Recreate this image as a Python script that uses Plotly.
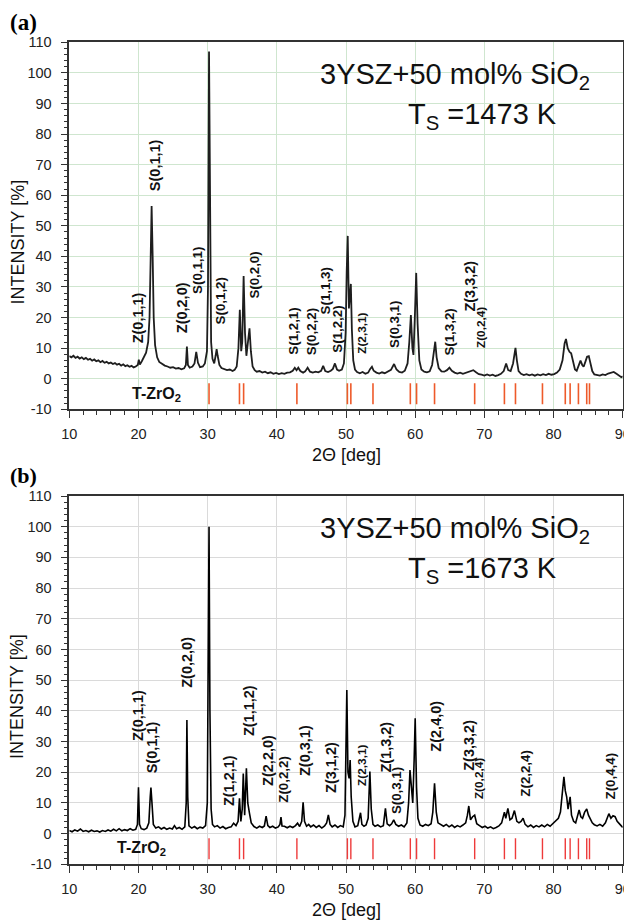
import plotly.graph_objects as go

# ---------------- data: panel (a), Ts = 1473 K ----------------
two_theta_a = [
    10.0, 10.3, 10.6, 10.9, 11.2, 11.5, 11.8, 12.1, 12.4, 12.7, 13.0, 13.3, 13.6, 13.9, 14.2, 14.5, 14.8,
    15.1, 15.4, 15.7, 16.0, 16.3, 16.6, 16.9, 17.2, 17.5, 17.8, 18.1, 18.4, 18.7, 19.0, 19.3, 19.6, 19.9,
    20.05, 20.2, 20.5, 20.8, 21.1, 21.4, 21.6, 21.75, 21.9, 22.05, 22.2, 22.4, 22.7, 23.0, 23.4, 23.8,
    24.2, 24.6, 25.0, 25.4, 25.8, 26.2, 26.6, 26.85, 27.0, 27.15, 27.4, 27.8, 28.1, 28.35, 28.6, 28.9,
    29.3, 29.6, 29.9, 30.05, 30.2, 30.35, 30.5, 30.7, 30.95, 31.15, 31.3, 31.45, 31.7, 32.0, 32.4, 32.8,
    33.2, 33.6, 33.9, 34.2, 34.45, 34.65, 34.85, 35.0, 35.2, 35.4, 35.6, 35.85, 36.05, 36.25, 36.5, 36.8,
    37.1, 37.5, 37.9, 38.3, 38.7, 39.1, 39.5, 39.9, 40.3, 40.7, 41.1, 41.5, 41.9, 42.3, 42.6, 42.85, 43.1,
    43.4, 43.8, 44.1, 44.45, 44.8, 45.2, 45.6, 46.0, 46.4, 46.7, 47.0, 47.4, 47.8, 48.1, 48.4, 48.7, 49.0,
    49.4, 49.7, 49.95, 50.1, 50.25, 50.42, 50.55, 50.7, 50.85, 51.05, 51.3, 51.6, 52.0, 52.4, 52.8, 53.2,
    53.5, 53.75, 54.0, 54.4, 54.8, 55.2, 55.6, 56.0, 56.5, 56.95, 57.3, 57.7, 58.1, 58.5, 58.9, 59.15,
    59.38, 59.6, 59.75, 59.95, 60.15, 60.35, 60.6, 60.9, 61.3, 61.7, 62.1, 62.45, 62.7, 62.9, 63.1, 63.4,
    63.8, 64.2, 64.6, 64.95, 65.3, 65.7, 66.1, 66.5, 66.9, 67.3, 67.7, 68.1, 68.4, 68.8, 69.2, 69.6, 70.0,
    70.4, 70.8, 71.2, 71.6, 72.0, 72.4, 72.8, 73.15, 73.45, 73.8, 74.15, 74.5, 74.7, 74.95, 75.3, 75.7,
    76.1, 76.5, 76.9, 77.3, 77.7, 78.1, 78.5, 78.9, 79.3, 79.7, 80.1, 80.5, 80.9, 81.3, 81.6, 81.8, 82.05,
    82.3, 82.55, 82.8, 83.1, 83.35, 83.6, 83.9, 84.15, 84.35, 84.6, 84.85, 85.1, 85.35, 85.6, 85.9, 86.3,
    86.7, 87.1, 87.5, 87.9, 88.3, 88.7, 89.1, 89.5, 89.8, 90.0,
]
intensity_a = [
    7.4, 7.0, 7.5, 6.8, 7.2, 6.6, 7.0, 6.4, 6.8, 6.2, 6.5, 5.9, 6.3, 5.7, 6.0, 5.4, 5.8,
    5.2, 5.5, 5.0, 5.3, 4.8, 5.1, 4.6, 4.9, 4.3, 4.7, 4.1, 4.4, 3.9, 4.2, 3.7, 4.0, 4.5,
    6.2, 4.6, 5.8, 7.0, 8.5, 12, 20, 38, 56.5, 40, 20, 11, 7, 5.5, 4.8, 4.3,
    4.0, 3.6, 3.8, 3.3, 3.5, 3.1, 3.4, 4.5, 10.5, 4.5, 3.6, 4.0, 5.0, 8.8, 5.2, 3.8,
    4.0, 5.0, 9, 30, 107, 35, 12, 6.5, 5.0, 7.5, 9.7, 7.5, 4.5, 3.5, 3.2, 2.8,
    3.0, 2.5, 2.9, 4.0, 10, 22.5, 9, 12, 33.6, 15, 7.5, 12, 16.5, 9, 4.0, 2.8,
    2.3, 2.5, 2.0, 2.3, 1.8, 2.1, 1.6, 1.9, 1.5, 1.8, 1.6, 2.0, 2.1, 2.6, 3.6, 2.8, 3.6,
    2.5, 2.0, 2.4, 3.6, 2.3, 2.0, 2.3, 2.1, 2.6, 4.2, 2.5, 2.2, 2.6, 3.2, 5.0, 3.0, 2.6,
    3.0, 5, 15, 35, 46.7, 23, 28, 31, 16, 6, 3.0, 2.2, 1.8, 2.2, 1.6, 2.0,
    3.2, 3.9, 2.6, 2.0, 1.7, 2.1, 1.8, 2.2, 2.9, 4.8, 3.0, 2.2, 2.0, 2.6, 5, 12,
    20.8, 10, 7.8, 20, 34.6, 18, 6, 3.0, 2.3, 2.1, 2.4, 4.5, 9, 12.1, 7, 3.5,
    2.4, 2.3, 2.8, 3.6, 2.6, 2.0, 1.7, 2.0, 1.6, 1.9, 2.3, 2.4, 2.8, 2.1, 1.5, 1.3, 1.0,
    1.4, 1.0, 1.3, 0.9, 1.2, 1.6, 2.5, 5.0, 2.8, 2.5, 5, 10.1, 6, 2.5, 1.6, 1.2,
    1.5, 1.1, 1.4, 1.0, 1.4, 1.1, 1.5, 1.2, 1.6, 1.3, 1.5, 2.0, 3.0, 6, 11.5, 13.0, 10,
    8.8, 8.3, 5.5, 3.0, 2.6, 4, 5.9, 4.5, 3.9, 5.5, 7.2, 7.4, 5, 2.5, 1.4, 1.2,
    1.0, 1.4, 1.2, 1.7, 2.0, 2.2, 1.6, 1.0, 0.5, 0.8,
]

# ---------------- data: panel (b), Ts = 1673 K ----------------
two_theta_b = [
    10.0, 10.4, 10.8, 11.2, 11.6, 12.0, 12.4, 12.8, 13.2, 13.6, 14.0, 14.4, 14.8, 15.2, 15.6, 16.0, 16.4,
    16.8, 17.2, 17.6, 18.0, 18.4, 18.8, 19.2, 19.6, 19.85, 20.0, 20.15, 20.4, 20.8, 21.2, 21.5, 21.7, 21.8,
    21.95, 22.15, 22.5, 22.9, 23.3, 23.7, 24.1, 24.5, 24.9, 25.2, 25.5, 25.9, 26.3, 26.7, 26.9, 27.0,
    27.12, 27.3, 27.7, 28.1, 28.5, 28.9, 29.3, 29.7, 29.95, 30.08, 30.2, 30.33, 30.5, 30.7, 31.0, 31.4,
    31.8, 32.2, 32.6, 33.0, 33.4, 33.75, 34.1, 34.4, 34.6, 34.8, 35.0, 35.15, 35.35, 35.6, 35.8, 36.05,
    36.3, 36.7, 37.1, 37.5, 37.9, 38.2, 38.45, 38.7, 39.0, 39.4, 39.8, 40.2, 40.45, 40.6, 40.75, 41.1,
    41.5, 41.9, 42.3, 42.7, 43.0, 43.3, 43.6, 43.8, 44.0, 44.3, 44.6, 44.9, 45.3, 45.7, 46.1, 46.5, 46.9,
    47.2, 47.45, 47.7, 48.0, 48.4, 48.8, 49.2, 49.6, 49.85, 50.0, 50.12, 50.28, 50.45, 50.6, 50.75, 51.0,
    51.3, 51.7, 51.95, 52.1, 52.3, 52.6, 52.9, 53.2, 53.45, 53.65, 53.9, 54.2, 54.6, 55.0, 55.4, 55.7,
    55.95, 56.3, 56.6, 56.9, 57.2, 57.6, 58.0, 58.4, 58.8, 59.05, 59.25, 59.45, 59.65, 59.85, 60.0, 60.2,
    60.4, 60.7, 61.1, 61.5, 61.9, 62.3, 62.55, 62.8, 63.05, 63.3, 63.7, 64.1, 64.5, 64.9, 65.3, 65.7,
    66.1, 66.5, 66.9, 67.3, 67.55, 67.75, 68.0, 68.3, 68.6, 68.9, 69.3, 69.7, 70.1, 70.5, 70.9, 71.3,
    71.7, 72.1, 72.5, 72.9, 73.1, 73.4, 73.7, 74.0, 74.35, 74.7, 75.0, 75.3, 75.6, 75.9, 76.3, 76.7,
    77.1, 77.5, 77.9, 78.3, 78.7, 79.1, 79.5, 79.9, 80.3, 80.7, 81.0, 81.25, 81.5, 81.7, 81.9, 82.1,
    82.4, 82.6, 82.9, 83.2, 83.45, 83.7, 83.95, 84.2, 84.5, 84.8, 85.05, 85.3, 85.6, 85.9, 86.3, 86.7,
    87.1, 87.5, 87.8, 88.0, 88.3, 88.6, 88.9, 89.2, 89.6, 90.0,
]
intensity_b = [
    1.0, 0.6, 1.2, 0.8, 1.5, 0.7, 1.0, 0.6, 1.1, 0.7, 0.9, 0.5, 1.0, 0.7, 1.2, 0.8, 1.4,
    0.9, 1.6, 0.9, 1.3, 1.0, 1.6, 1.1, 1.4, 3, 15.1, 3, 1.6, 1.3, 1.8, 3.5, 12, 15,
    10, 3, 1.8, 2.2, 1.5, 2.0, 1.4, 1.8, 1.5, 2.6, 1.6, 2.0, 1.4, 2.2, 10, 37,
    12, 2.5, 1.8, 2.3, 1.6, 2.1, 1.8, 2.6, 10, 45, 100, 40, 8, 3, 2.2, 2.6,
    1.8, 2.3, 1.6, 2.0, 2.2, 3.4, 2.6, 4, 11.5, 4, 8, 19.6, 6, 21.3, 10, 6.6,
    3.5, 2.3, 1.8, 2.4, 2.0, 2.5, 5.7, 2.6, 2.0, 2.4, 1.8, 2.2, 3, 5.4, 2.5, 2.4,
    1.9, 2.4, 2.0, 2.6, 3.4, 2.3, 4, 10.2, 4, 2.4, 3.0, 2.2, 2.8, 2.0, 2.6, 1.8, 2.5,
    3.5, 6.1, 3, 2.2, 2.8, 2.0, 2.6, 2.2, 6, 25, 46.8, 20, 18, 24, 12, 4,
    2.2, 2.6, 5, 6.8, 3, 2.4, 2.8, 5, 20.2, 8, 3, 2.4, 2.8, 2.2, 2.6, 8.2,
    3.2, 2.6, 3.2, 4.5, 3.0, 2.4, 2.8, 2.2, 3.5, 10, 20.7, 14, 10, 24, 37.6, 15,
    5, 2.8, 2.4, 3.0, 2.6, 3.2, 7, 16.4, 7, 3.5, 2.8, 2.4, 3.0, 2.2, 2.8, 2.0,
    2.6, 2.2, 2.8, 3.5, 6, 9, 4.5, 5.5, 6.0, 3.2, 2.6, 2.0, 2.4, 1.8, 2.2, 1.6,
    2.0, 2.5, 3.5, 7, 5, 8.2, 4.5, 5, 7.5, 4, 3.5, 4, 5, 3, 2.2, 2.8,
    2.0, 2.6, 2.2, 2.8, 2.2, 3.0, 2.4, 3.2, 4, 5, 7, 12, 18.5, 14, 12, 8,
    12, 6, 4, 3.5, 6, 7.7, 5.5, 5, 7, 8, 6, 5, 3.5, 2.9, 2.5, 3.0,
    2.4, 3.5, 5.5, 6.5, 5, 5.8, 5.5, 4, 3, 2.0,
]

# reference positions of tetragonal ZrO2 (T-ZrO2)
t_zro2_positions = [30.2, 34.6, 35.2, 42.9, 50.2, 50.7, 53.9, 59.3, 60.2, 62.8,
                    68.6, 72.9, 74.5, 78.4, 81.7, 82.4, 83.6, 84.8, 85.2]
t_zro2_level = -4.9

# peak labels: text, 2theta, intensity at label base, size class
labels_a = ["Z(0,1,1)", "S(0,1,1)", "Z(0,2,0)", "S(0,1,1)", "S(0,1,2)", "S(0,2,0)", "S(1,2,1)",
            "S(0,2,2)", "S(1,1,3)", "S(1,2,2)", "Z(2,3,1)", "S(0,3,1)", "S(1,3,2)", "Z(3,3,2)", "Z(0,2,4)"]
labels_a_x = [19.9, 22.3, 26.4, 28.5, 31.9, 36.8, 42.4, 45.0, 47.0, 48.75, 52.2, 57.0, 65.0, 67.9, 69.6]
labels_a_y = [11.0, 60.8, 14.3, 27.0, 17.2, 25.6, 7.2, 7.0, 20.3, 7.8, 7.4, 9.4, 7.0, 21.4, 9.4]
labels_a_cls = ["L", "L", "L", "M", "M", "M", "M", "M", "M", "M", "S", "M", "M", "L", "S"]

labels_b = ["Z(0,1,1)", "S(0,1,1)", "Z(0,2,0)", "Z(1,2,1)", "Z(1,1,2)", "Z(2,2,0)", "Z(0,2,2)",
            "Z(0,3,1)", "Z(3,1,2)", "Z(2,3,1)", "Z(1,3,2)", "S(0,3,1)", "Z(2,4,0)", "Z(3,3,2)",
            "Z(0,2,4)", "Z(2,2,4)", "Z(0,4,4)"]
labels_b_x = [19.9, 22.0, 27.06, 33.2, 35.9, 38.7, 41.0, 44.1, 47.9, 52.2, 55.8, 57.3, 63.0, 67.8,
              69.2, 76.0, 88.2]
labels_b_y = [29.6, 19.1, 46.8, 8.4, 31.1, 15.0, 9.5, 18.0, 12.6, 14.8, 19.1, 5.7, 26.2, 19.7,
              10.7, 11.5, 10.4]
labels_b_cls = ["L", "L", "L", "L", "L", "L", "M", "L", "L", "S", "L", "M", "L", "L", "S", "M", "M"]

y_ticks = [-10, 0, 10, 20, 30, 40, 50, 60, 70, 80, 90, 100, 110]
y_tick_text = ["-10", "0", "10", "20", "30", "40", "50", "60", "70", "80", "90", "100", "110"]
x_ticks = [10, 20, 30, 40, 50, 60, 70, 80, 90]

# ---------------- styling ----------------
SANS = "Liberation Sans, Arial, sans-serif"
SERIF = "Liberation Serif, Times New Roman, serif"
label_sizes = {"L": 14.5, "M": 13.3, "S": 11.8}

# the page body has an 8px margin: the figure starts at (8, 8) of the window
OFF = 8
W, H = 632 - OFF, 921 - OFF


def px_x(p):
    return (p - OFF) / W


def px_y(p):
    return 1 - (p - OFF) / H


fig = go.Figure()

fig.add_trace(go.Scatter(x=two_theta_a, y=intensity_a, mode="lines",
                         line=dict(color="#1e1e1e", width=1.8), xaxis="x", yaxis="y",
                         showlegend=False, hoverinfo="skip"))
fig.add_trace(go.Scatter(x=t_zro2_positions, y=[t_zro2_level] * len(t_zro2_positions), mode="markers",
                         marker=dict(symbol="line-ns", size=15, line=dict(color="#ee5a2a", width=1.6)),
                         xaxis="x", yaxis="y", showlegend=False, hoverinfo="skip"))
fig.add_trace(go.Scatter(x=two_theta_b, y=intensity_b, mode="lines",
                         line=dict(color="#000000", width=1.6), xaxis="x2", yaxis="y2",
                         showlegend=False, hoverinfo="skip"))
fig.add_trace(go.Scatter(x=t_zro2_positions, y=[t_zro2_level] * len(t_zro2_positions), mode="markers",
                         marker=dict(symbol="line-ns", size=15, line=dict(color="#ee3a3a", width=1.4)),
                         xaxis="x2", yaxis="y2", showlegend=False, hoverinfo="skip"))

x_dom = [px_x(69.3), px_x(622.7)]
ya_dom = [px_y(409.3), px_y(42.3)]
yb_dom = [px_y(864.3), px_y(496)]


def xaxis_style(anchor, grid):
    return dict(domain=x_dom, anchor=anchor, range=[10, 90], tickvals=x_ticks,
                showgrid=True, gridcolor=grid, gridwidth=1, zeroline=False,
                showline=True, linecolor="#333333", linewidth=1.5, mirror=True,
                ticks="outside", ticklen=7, tickwidth=1.3, tickcolor="#333333",
                ticklabelstandoff=4,
                minor=dict(dtick=2, ticks="outside", ticklen=4, tickwidth=1.2, tickcolor="#333333",
                           showgrid=False),
                tickfont=dict(family=SANS, size=14.5, color="#222222"), automargin=False)


def yaxis_style(anchor, dom, grid):
    return dict(domain=dom, anchor=anchor, range=[-10, 110], tickvals=y_ticks, ticktext=y_tick_text,
                showgrid=True, gridcolor=grid, gridwidth=1, zeroline=False,
                showline=True, linecolor="#333333", linewidth=1.5, mirror=True,
                ticks="outside", ticklen=7, tickwidth=1.3, tickcolor="#333333",
                ticklabelstandoff=6,
                minor=dict(dtick=2, ticks="outside", ticklen=4, tickwidth=1.2, tickcolor="#333333",
                           showgrid=False),
                tickfont=dict(family=SANS, size=14.5, color="#222222"), automargin=False)


fig.update_layout(
    width=W, height=H, margin=dict(l=0, r=0, t=0, b=0),
    paper_bgcolor="white", plot_bgcolor="white",
    xaxis=xaxis_style("y", "#cfe6cf"),
    yaxis=yaxis_style("x", ya_dom, "#cfe6cf"),
    xaxis2=xaxis_style("y2", "#dadada"),
    yaxis2=yaxis_style("x2", yb_dom, "#dadada"),
)

ann = []
for txt, xv, yv, c in zip(labels_a, labels_a_x, labels_a_y, labels_a_cls):
    ann.append(dict(text="<b>%s</b>" % txt, x=xv, y=yv, xref="x", yref="y", textangle=-90,
                    xanchor="center", yanchor="bottom", showarrow=False,
                    font=dict(family=SANS, size=label_sizes[c], color="#111111")))
for txt, xv, yv, c in zip(labels_b, labels_b_x, labels_b_y, labels_b_cls):
    ann.append(dict(text="<b>%s</b>" % txt, x=xv, y=yv, xref="x2", yref="y2", textangle=-90,
                    xanchor="center", yanchor="bottom", showarrow=False,
                    font=dict(family=SANS, size=label_sizes[c], color="#111111")))

for xr, yr, ts, tzx in (("x", "y", "T<sub>S</sub> =1473 K", 18.8), ("x2", "y2", "T<sub>S</sub> =1673 K", 16.6)):
    ann.append(dict(text="3YSZ+50 mol% SiO<sub>2</sub>", x=46.0, y=99.0, xref=xr, yref=yr,
                    xanchor="left", yanchor="middle", showarrow=False,
                    font=dict(family=SANS, size=29, color="#111111")))
    ann.append(dict(text=ts, x=58.7, y=86.0, xref=xr, yref=yr,
                    xanchor="left", yanchor="middle", showarrow=False,
                    font=dict(family=SANS, size=29, color="#111111")))
    ann.append(dict(text="<b>T-ZrO<sub>2</sub></b>", x=tzx, y=-5.0, xref=xr, yref=yr,
                    xanchor="left", yanchor="middle", showarrow=False,
                    font=dict(family=SANS, size=16, color="#111111")))

# panel letters and axis titles (paper coords == figure fraction since margins are 0)
ann.append(dict(text="<b>(a)</b>", x=px_x(8), y=px_y(8), xref="paper", yref="paper",
                xanchor="left", yanchor="top", showarrow=False,
                font=dict(family=SERIF, size=23, color="#000000")))
ann.append(dict(text="<b>(b)</b>", x=px_x(8), y=px_y(461), xref="paper", yref="paper",
                xanchor="left", yanchor="top", showarrow=False,
                font=dict(family=SERIF, size=22, color="#000000")))
for yc in (242.5, 697.0):
    ann.append(dict(text="INTENSITY [%]", x=px_x(17), y=px_y(yc), xref="paper", yref="paper",
                    textangle=-90, xanchor="center", yanchor="middle", showarrow=False,
                    font=dict(family=SANS, size=18, color="#111111")))
for yc in (455.0, 910.0):
    ann.append(dict(text="2Θ [deg]", x=px_x(346), y=px_y(yc), xref="paper", yref="paper",
                    xanchor="center", yanchor="middle", showarrow=False,
                    font=dict(family=SANS, size=18, color="#111111")))

fig.update_layout(annotations=ann)
fig.write_html("out.html")
